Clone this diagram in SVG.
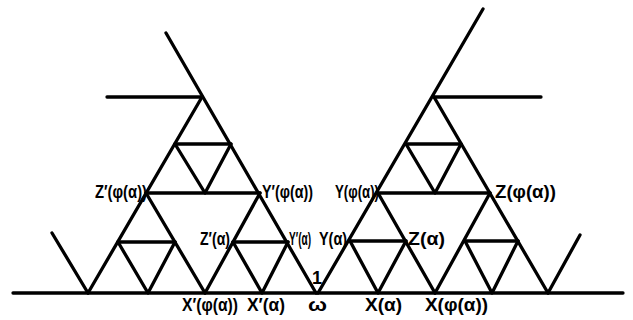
<svg xmlns="http://www.w3.org/2000/svg" width="633" height="320" viewBox="0 0 633 320">
<style>
.ln{stroke:#000;stroke-width:3.3;fill:none;stroke-linecap:round;stroke-linejoin:round}
.lb{font-family:"Liberation Sans",Arial,sans-serif;font-size:18px;font-weight:bold;fill:#000}
</style>
<rect width="633" height="320" fill="#fff"/>
<g id="connectors">
<line class="ln" x1="13" y1="293" x2="623" y2="293"/>
<line class="ln" x1="52" y1="233" x2="88" y2="293"/>
<line class="ln" x1="88" y1="293" x2="202" y2="97"/>
<line class="ln" x1="166" y1="33" x2="316" y2="293"/>
<line class="ln" x1="107" y1="97" x2="202" y2="97"/>
<line class="ln" x1="175" y1="144" x2="231" y2="144"/>
<polyline class="ln" points="175,144 205,193 231,144"/>
<line class="ln" x1="146" y1="193" x2="260" y2="193"/>
<line class="ln" x1="146" y1="193" x2="205" y2="293"/>
<line class="ln" x1="260" y1="193" x2="205" y2="293"/>
<line class="ln" x1="118" y1="242" x2="175" y2="242"/>
<polyline class="ln" points="118,242 148,293 175,242"/>
<line class="ln" x1="233" y1="242" x2="288" y2="242"/>
<polyline class="ln" points="233,242 262,293 288,242"/>
<line class="ln" x1="483" y1="9" x2="318" y2="293"/>
<line class="ln" x1="434" y1="97" x2="548" y2="293"/>
<line class="ln" x1="434" y1="97" x2="541" y2="97"/>
<line class="ln" x1="548" y1="293" x2="580" y2="235"/>
<line class="ln" x1="406" y1="144" x2="461" y2="144"/>
<polyline class="ln" points="406,144 435,193 461,144"/>
<line class="ln" x1="378" y1="193" x2="490" y2="193"/>
<line class="ln" x1="378" y1="193" x2="435" y2="293"/>
<line class="ln" x1="490" y1="193" x2="435" y2="293"/>
<line class="ln" x1="350" y1="241" x2="406" y2="241"/>
<polyline class="ln" points="350,241 378,293 406,241"/>
<line class="ln" x1="465" y1="241" x2="518" y2="241"/>
<polyline class="ln" points="465,241 492,293 518,241"/>
</g>
<g id="labels">
<text class="lb" x="95" y="198" textLength="52" lengthAdjust="spacingAndGlyphs">Z′(φ(α))</text>
<text class="lb" x="262" y="198" textLength="51" lengthAdjust="spacingAndGlyphs">Y′(φ(α))</text>
<text class="lb" x="200" y="245" textLength="30" lengthAdjust="spacingAndGlyphs">Z′(α)</text>
<text class="lb" transform="translate(289,245) scale(0.56,1)">Y′(α)</text>
<text class="lb" transform="translate(319,245) scale(0.8,1)">Y(α)</text>
<text class="lb" x="335" y="198" textLength="44" lengthAdjust="spacingAndGlyphs">Y(φ(α))</text>
<text class="lb" x="495" y="198" textLength="61" lengthAdjust="spacingAndGlyphs">Z(φ(α))</text>
<text class="lb" x="408" y="245" textLength="37" lengthAdjust="spacingAndGlyphs">Z(α)</text>
<text class="lb" x="317" y="284" text-anchor="middle">1</text>
<text class="lb" x="182" y="311" textLength="56" lengthAdjust="spacingAndGlyphs">X′(φ(α))</text>
<text class="lb" x="247" y="311" textLength="38" lengthAdjust="spacingAndGlyphs">X′(α)</text>
<text class="lb" x="308" y="311" textLength="19" lengthAdjust="spacingAndGlyphs">ω</text>
<text class="lb" x="365" y="311" textLength="37" lengthAdjust="spacingAndGlyphs">X(α)</text>
<text class="lb" x="425" y="311" textLength="63" lengthAdjust="spacingAndGlyphs">X(φ(α))</text>
</g>
</svg>
